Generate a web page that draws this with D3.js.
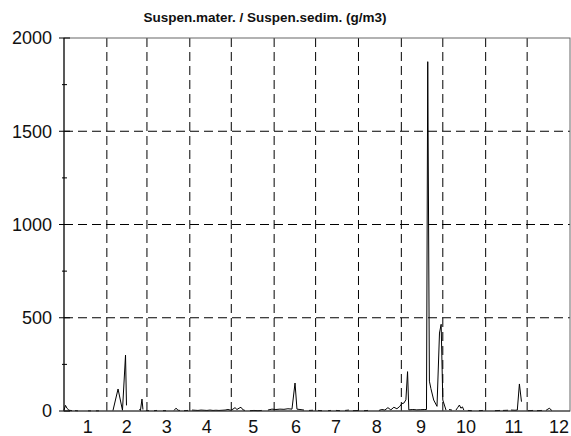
<!DOCTYPE html>
<html>
<head lang="en">
  <title>Suspen.mater.</title>
  <script src="https://d3js.org/d3.v7.min.js" charset="utf-8"></script>
  <style>
    body { margin: 0; background: #fff; }
    text { font-family: "Liberation Sans", Arial, sans-serif; fill: #111; }
  </style>
</head>
<body>
  <script>
    // day of year (leap year) and concentration, null = no sample
    var days = [
      0, 1.1, 2.2, 3.6, 5.8, null,
      8.0, 10.1, null,
      17.4, 19.5, null,
      23.1, 25.3, null,
      35.4, 39.1, 42.3, 44.5, 45.2, null,
      54.6, 55.3, 56.4, 57.1, null,
      59.3, 61.5, null,
      65.1, 67.3, null,
      71.6, 73.8, null,
      79.6, 81.0, 82.5, 83.9, null,
      86.8, 89.7, null,
      92.6, 94.8, 96.9, 99.1, 101.3, 103.4, 105.6, 107.8, 109.9, 112.1, 114.3, 116.5, 118.6, 120.8,
      122.2, 123.7, 125.1, 126.6, 128.0, 129.5, 130.9, null,
      134.5, 137.4, 140.3, 143.1, null,
      147.5, 150.4, 153.3, 156.2, 159.1, 162.0, 164.9, 167.1, 168.5, 170.7, 173.6, null,
      177.2, 180.1, null,
      183.7, 186.6, null,
      191.0, 193.1, null,
      196.7, 199.6, null,
      203.3, 206.1, null,
      209.0, 213.4, null,
      217.0, 219.9, null,
      227.8, 229.9, 232.1, 234.3, 236.4, 238.6, 240.8, 242.9, 244.4, 245.8, 247.3, 248.5, 249.4,
      252.3, 255.2, 258.1, 261.0, 262.2, 263.1, 264.3, 265.4, 267.4, 269.8, 271.6, 272.8, 274.0, 276.3, null,
      278.5, 280.6, null,
      283.5, 284.9, 286.0, 287.1, 288.2, 289.2, null,
      292.1, 295.0, null,
      300.1, 303.0, null,
      311.7, 315.4, null,
      317.5, 321.2, null,
      323.3, 326.2, 327.9, 329.4, 330.9, null,
      335.6, 339.3, null,
      342.1, 345.7, null,
      348.6, 350.0, 351.2, 352.2, 352.9
    ];
    var values = [
      5, 30, 14, 4, 2, null,
      2, 1, null,
      1, 1, null,
      1, 1, null,
      2, 118, 4, 300, 30, null,
      10, 2, 64, 8, null,
      3, 2, null,
      2, 3, null,
      2, 2, null,
      3, 15, 4, 3, null,
      2, 3, null,
      5, 4, 3, 5, 4, 3, 5, 3, 4, 3, 4, 5, 8, 4,
      10, 18, 8, 15, 20, 6, 3, null,
      2, 3, 2, 3, null,
      5, 10, 8, 10, 9, 12, 10, 150, 10, 8, 5, null,
      3, 4, null,
      3, 2, null,
      2, 3, null,
      3, 2, null,
      3, 5, null,
      2, 3, null,
      2, 3, null,
      3, 8, 5, 18, 6, 20, 12, 25, 40, 42, 60, 211, 6,
      8, 6, 7, 8, 8, 1873, 160, 120, 59, 25, 418, 465, 59, 5, null,
      8, 5, null,
      5, 20, 32, 15, 22, 5, null,
      3, 2, null,
      2, 3, null,
      2, 3, null,
      3, 4, null,
      5, 4, 5, 145, 50, null,
      2, 3, null,
      2, 3, null,
      3, 10, 15, 6, 3
    ];

    var monthEnds = [31, 60, 91, 121, 152, 182, 213, 244, 274, 305, 335];
    var monthLabels = ["1", "2", "3", "4", "5", "6", "7", "8", "9", "10", "11", "12"];
    var labelDays = [17.1, 45.4, 74.3, 103.2, 136.9, 167.8, 196.7, 226.2, 258.3, 290.8, 325.3, 358.0];
    var yTicks = [0, 500, 1000, 1500, 2000];
    var yMinor = [250, 750, 1250, 1750];
    var yGrid = [500, 1000, 1500];

    var width = 571;
    var height = 436;
    var plotL = 64, plotR = 570, plotT = 38, plotB = 411;

    var x = d3.scaleLinear().domain([0, 366]).range([plotL, plotR]);
    var y = d3.scaleLinear().domain([0, 2000]).range([plotB, plotT]);

    var svg = d3.select("body")
      .append("svg")
      .attr("width", width)
      .attr("height", height);

    svg.append("text")
      .attr("x", 265)
      .attr("y", 21.5)
      .attr("text-anchor", "middle")
      .style("font-size", "13.5px")
      .style("font-weight", "bold")
      .text("Suspen.mater. / Suspen.sedim. (g/m3)");

    // dashed grid
    svg.append("g").selectAll("line")
      .data(monthEnds)
      .enter().append("line")
        .attr("x1", function(d) { return x(d); })
        .attr("x2", function(d) { return x(d); })
        .attr("y1", plotT)
        .attr("y2", plotB + 4)
        .style("stroke", "#000")
        .style("stroke-width", 1)
        .style("stroke-dasharray", "9,5");

    svg.append("g").selectAll("line")
      .data(yGrid)
      .enter().append("line")
        .attr("x1", plotL)
        .attr("x2", plotR)
        .attr("y1", function(d) { return y(d); })
        .attr("y2", function(d) { return y(d); })
        .style("stroke", "#000")
        .style("stroke-width", 1)
        .style("stroke-dasharray", "9,5");

    // frame
    svg.append("rect")
      .attr("x", plotL)
      .attr("y", plotT)
      .attr("width", plotR - plotL)
      .attr("height", plotB - plotT)
      .style("fill", "none")
      .style("stroke", "#666")
      .style("stroke-width", 1);

    // the series
    var line = d3.line()
      .defined(function(d, i) { return values[i] != null; })
      .x(function(d, i) { return x(days[i]); })
      .y(function(d, i) { return y(values[i]); });

    svg.append("path")
      .datum(values)
      .attr("d", line)
      .style("fill", "none")
      .style("stroke", "#000")
      .style("stroke-width", 1);

    // axes
    svg.append("line")
      .attr("x1", plotL).attr("x2", plotL)
      .attr("y1", plotT).attr("y2", plotB)
      .style("stroke", "#000");
    svg.append("line")
      .attr("x1", plotL).attr("x2", plotR)
      .attr("y1", plotB).attr("y2", plotB)
      .style("stroke", "#333");

    svg.append("g").selectAll("line")
      .data(yTicks)
      .enter().append("line")
        .attr("x1", plotL - 5)
        .attr("x2", plotL + 6)
        .attr("y1", function(d) { return y(d); })
        .attr("y2", function(d) { return y(d); })
        .style("stroke", "#000");

    svg.append("g").selectAll("line")
      .data(yMinor)
      .enter().append("line")
        .attr("x1", plotL - 2)
        .attr("x2", plotL + 3)
        .attr("y1", function(d) { return y(d); })
        .attr("y2", function(d) { return y(d); })
        .style("stroke", "#000");

    svg.append("g").selectAll("text")
      .data(yTicks)
      .enter().append("text")
        .attr("x", 52)
        .attr("y", function(d) { return y(d); })
        .attr("dy", "0.36em")
        .attr("text-anchor", "end")
        .style("font-size", "18px")
        .text(function(d) { return d; });

    svg.append("g").selectAll("text")
      .data(monthLabels)
      .enter().append("text")
        .attr("x", function(d, i) { return x(labelDays[i]); })
        .attr("y", 433)
        .attr("text-anchor", "middle")
        .style("font-size", "18px")
        .text(function(d) { return d; });
  </script>
</body>
</html>
